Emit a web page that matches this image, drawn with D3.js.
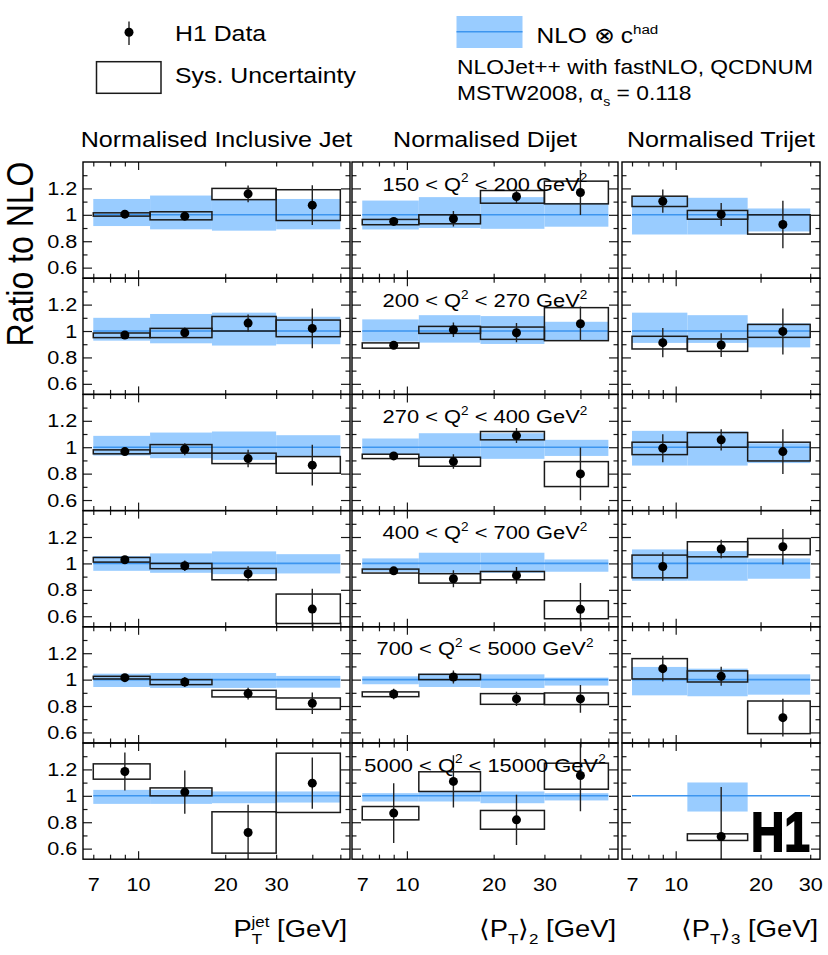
<!DOCTYPE html>
<html>
<head>
<meta charset="utf-8">
<script src="https://cdn.jsdelivr.net/npm/d3@7"></script>
<style>
	body { margin: 0; background: #fff; }
	svg { display: block; }
</style>
</head>
<body>
<svg id="chart" width="828" height="955"></svg>
<script>
const q2Low = [150, 200, 270, 400, 700, 5000];
const q2High = [200, 270, 400, 700, 5000, 15000];

const jetEdges = [7, 11, 18, 30, 50];
const dijetEdges = [7, 11, 18, 30, 50];
const trijetEdges = [7, 11, 18, 30];
const binCentres = [9, 14.5, 24, 40];

const yMajor = [0.6, 0.8, 1, 1.2];
const yMinor = [0.7, 0.9, 1.1, 1.3];
const xMajor = [10];
const xMinor = [7, 8, 9, 20, 30, 40, 50];
const xLabels = [7, 10, 20, 30];

// normalised inclusive jet, one row per Q2 bin
const jetVal = [
	[1.005, 0.99, 1.159, 1.073],
	[0.97, 0.987, 1.06, 1.02],
	[0.967, 0.985, 0.914, 0.864],
	[1.028, 0.982, 0.922, 0.654],
	[1.015, 0.982, 0.894, 0.821],
	[1.184, 1.028, 0.722, 1.096]
];
const jetStat = [
	[0.012, 0.03, 0.063, 0.15],
	[0.015, 0.04, 0.065, 0.15],
	[0.015, 0.045, 0.066, 0.154],
	[0.015, 0.04, 0.057, 0.155],
	[0.02, 0.037, 0.045, 0.082],
	[0.144, 0.164, 0.21, 0.194]
];
const jetSysLo = [
	[0.99, 0.962, 1.115, 0.957],
	[0.95, 0.95, 1.0, 0.957],
	[0.95, 0.955, 0.876, 0.803],
	[1.01, 0.96, 0.876, 0.545],
	[1.005, 0.962, 0.869, 0.775],
	[1.126, 1.0, 0.566, 0.874]
];
const jetSysHi = [
	[1.015, 1.023, 1.2, 1.19],
	[0.985, 1.02, 1.11, 1.083],
	[0.98, 1.02, 0.955, 0.929],
	[1.045, 1.0, 0.962, 0.768],
	[1.025, 1.0, 0.919, 0.861],
	[1.242, 1.06, 0.879, 1.323]
];
const jetNloLo = [
	[0.915, 0.89, 0.88, 0.89],
	[0.927, 0.907, 0.89, 0.9],
	[0.937, 0.917, 0.904, 0.93],
	[0.944, 0.929, 0.919, 0.924],
	[0.944, 0.937, 0.937, 0.939],
	[0.939, 0.939, 0.944, 0.949]
];
const jetNloHi = [
	[1.12, 1.146, 1.12, 1.12],
	[1.1, 1.129, 1.139, 1.108],
	[1.086, 1.111, 1.119, 1.091],
	[1.056, 1.076, 1.091, 1.07],
	[1.045, 1.05, 1.05, 1.028],
	[1.045, 1.045, 1.033, 1.033]
];

// normalised dijet
const dijetVal = [
	[0.95, 0.97, 1.139, 1.169],
	[0.892, 1.01, 0.987, 1.055],
	[0.934, 0.891, 1.088, 0.798],
	[0.944, 0.884, 0.909, 0.652],
	[0.891, 1.02, 0.854, 0.854],
	[0.869, 1.109, 0.818, 1.154]
];
const dijetStat = [
	[0.015, 0.058, 0.05, 0.17],
	[0.02, 0.055, 0.073, 0.13],
	[0.02, 0.055, 0.057, 0.2],
	[0.02, 0.064, 0.063, 0.2],
	[0.04, 0.05, 0.054, 0.105],
	[0.227, 0.198, 0.19, 0.27]
];
const dijetSysLo = [
	[0.925, 0.932, 1.088, 1.083],
	[0.87, 0.982, 0.937, 0.927],
	[0.914, 0.856, 1.056, 0.702],
	[0.927, 0.851, 0.876, 0.581],
	[0.871, 1.0, 0.813, 0.811],
	[0.818, 1.033, 0.747, 1.05]
];
const dijetSysHi = [
	[0.965, 1.0, 1.184, 1.255],
	[0.91, 1.035, 1.03, 1.177],
	[0.947, 0.924, 1.119, 0.891],
	[0.957, 0.922, 0.939, 0.717],
	[0.907, 1.04, 0.894, 0.899],
	[0.919, 1.182, 0.889, 1.247]
];
const dijetNloLo = [
	[0.889, 0.9, 0.894, 0.91],
	[0.92, 0.912, 0.902, 0.93],
	[0.947, 0.917, 0.912, 0.934],
	[0.937, 0.929, 0.929, 0.937],
	[0.965, 0.944, 0.937, 0.955],
	[0.957, 0.957, 0.944, 0.965]
];
const dijetNloHi = [
	[1.108, 1.134, 1.134, 1.09],
	[1.088, 1.12, 1.113, 1.07],
	[1.066, 1.106, 1.106, 1.056],
	[1.038, 1.081, 1.081, 1.03],
	[1.025, 1.045, 1.04, 1.015],
	[1.02, 1.033, 1.033, 1.02]
];

// normalised trijet
const trijetVal = [
	[1.103, 1.003, 0.927],
	[0.912, 0.894, 0.997],
	[0.992, 1.056, 0.967],
	[0.977, 1.109, 1.126],
	[1.083, 1.025, 0.712],
	[null, 0.692, null]
];
const trijetStat = [
	[0.088, 0.087, 0.18],
	[0.11, 0.09, 0.174],
	[0.106, 0.08, 0.17],
	[0.108, 0.07, 0.134],
	[0.097, 0.072, 0.143],
	[null, 0.374, null]
];
const trijetSysLo = [
	[1.063, 0.967, 0.854],
	[0.864, 0.846, 0.952],
	[0.944, 1.0, 0.896],
	[0.891, 1.05, 1.066],
	[1.005, 0.982, 0.591],
	[null, 0.662, null]
];
const trijetSysHi = [
	[1.141, 1.033, 1.0],
	[0.96, 0.94, 1.05],
	[1.038, 1.111, 1.038],
	[1.063, 1.164, 1.189],
	[1.159, 1.066, 0.838],
	[null, 0.712, null]
];
const trijetNloLo = [
	[0.851, 0.851, 0.874],
	[0.91, 0.91, 0.876],
	[0.861, 0.861, 0.88],
	[0.869, 0.869, 0.884],
	[0.881, 0.874, 0.886],
	[null, 0.881, null]
];
const trijetNloHi = [
	[1.135, 1.129, 1.048],
	[1.139, 1.12, 1.058],
	[1.124, 1.119, 1.03],
	[1.106, 1.093, 1.038],
	[1.096, 1.083, 1.04],
	[null, 1.101, null]
];

const observables = [
	{ title: "Normalised Inclusive Jet", edges: jetEdges, val: jetVal, stat: jetStat, sysLo: jetSysLo, sysHi: jetSysHi, nloLo: jetNloLo, nloHi: jetNloHi },
	{ title: "Normalised Dijet", edges: dijetEdges, val: dijetVal, stat: dijetStat, sysLo: dijetSysLo, sysHi: dijetSysHi, nloLo: dijetNloLo, nloHi: dijetNloHi },
	{ title: "Normalised Trijet", edges: trijetEdges, val: trijetVal, stat: trijetStat, sysLo: trijetSysLo, sysHi: trijetSysHi, nloLo: trijetNloLo, nloHi: trijetNloHi }
];

// layout
const colLeft = [83, 352, 622];
const colRight = [350, 618, 820];
const xDomains = [[6.45, 54], [6.45, 54], [6.45, 32.5]];
const rowTop = 162;
const rowH = 116.2;
const yDomain = [0.52, 1.4];

const FONT = "'Liberation Sans', Arial, Helvetica, sans-serif";
const SX = 1.14;
const bandColor = "#99ccff";
const lineColor = "#3d95ef";
const ink = "#1a1a1a";

const svg = d3.select("#chart");

function stretchedText(parent, x, y, size, anchor) {
	return parent.append("text")
		.attr("transform", `translate(${x},${y}) scale(${SX},1)`)
		.attr("font-family", FONT)
		.attr("font-size", size)
		.attr("text-anchor", anchor || "start")
		.attr("fill", "#000");
}

function richText(t, parts, size) {
	let shift = 0;
	parts.forEach(p => {
		const kind = p[1] || "";
		const off = kind === "sup" ? -0.42 * size : kind === "sub" ? 0.3 * size : 0;
		const ts = t.append("tspan")
			.attr("dy", off - shift)
			.attr("font-size", kind ? size * 0.62 : size)
			.text(p[0]);
		if (p[2]) ts.attr("dx", p[2]);
		shift = off;
	});
	return t;
}

function tickAxis(g, axis, values, size) {
	g.call(axis.tickValues(values).tickSize(-size).tickFormat(""))
		.call(a => a.select(".domain").remove())
		.selectAll("line")
		.attr("stroke", ink)
		.attr("stroke-width", 1.2);
}

observables.forEach((obs, c) => {
	const x = d3.scaleLog().domain(xDomains[c]).range([colLeft[c], colRight[c]]);
	const xMinorIn = xMinor.filter(v => v <= xDomains[c][1]);

	stretchedText(svg, (colLeft[c] + colRight[c]) / 2, 147, 22, "middle").text(obs.title);

	d3.range(6).forEach(r => {
		const top = rowTop + r * rowH;
		const bottom = top + rowH;
		const y = d3.scaleLinear().domain(yDomain).range([bottom, top]);
		const clipId = `clip-${c}-${r}`;

		svg.append("clipPath").attr("id", clipId)
			.append("rect")
			.attr("x", colLeft[c])
			.attr("y", top)
			.attr("width", colRight[c] - colLeft[c])
			.attr("height", rowH);

		const panel = svg.append("g").attr("clip-path", `url(#${clipId})`);

		const bins = obs.edges.slice(0, -1).map((lo, i) => ({
			lo: lo,
			hi: obs.edges[i + 1],
			xc: binCentres[i],
			v: obs.val[r][i],
			stat: obs.stat[r][i],
			sysLo: obs.sysLo[r][i],
			sysHi: obs.sysHi[r][i],
			nloLo: obs.nloLo[r][i],
			nloHi: obs.nloHi[r][i]
		}));
		const filled = bins.filter(d => d.v != null);

		panel.selectAll("rect.band")
			.data(bins.filter(d => d.nloLo != null))
			.enter()
			.append("rect")
			.attr("class", "band")
			.attr("x", d => x(d.lo))
			.attr("y", d => y(d.nloHi))
			.attr("width", d => x(d.hi) - x(d.lo))
			.attr("height", d => y(d.nloLo) - y(d.nloHi))
			.attr("fill", bandColor);

		panel.append("line")
			.attr("x1", x(obs.edges[0]))
			.attr("x2", x(obs.edges[obs.edges.length - 1]))
			.attr("y1", y(1))
			.attr("y2", y(1))
			.attr("stroke", lineColor)
			.attr("stroke-width", 1.6);

		panel.selectAll("rect.sys")
			.data(filled)
			.enter()
			.append("rect")
			.attr("class", "sys")
			.attr("x", d => x(d.lo))
			.attr("y", d => y(d.sysHi))
			.attr("width", d => x(d.hi) - x(d.lo))
			.attr("height", d => y(d.sysLo) - y(d.sysHi))
			.attr("fill", "none")
			.attr("stroke", ink)
			.attr("stroke-width", 1.5);

		panel.selectAll("line.err")
			.data(filled)
			.enter()
			.append("line")
			.attr("class", "err")
			.attr("x1", d => x(d.xc))
			.attr("x2", d => x(d.xc))
			.attr("y1", d => y(d.v - d.stat))
			.attr("y2", d => y(d.v + d.stat))
			.attr("stroke", "#222")
			.attr("stroke-width", 1.4);

		panel.selectAll("circle")
			.data(filled)
			.enter()
			.append("circle")
			.attr("cx", d => x(d.xc))
			.attr("cy", d => y(d.v))
			.attr("r", 4.5)
			.attr("fill", "#000");

		// ticks on all four sides, pointing inwards
		const ticks = svg.append("g");
		tickAxis(ticks.append("g").attr("transform", `translate(0,${bottom})`), d3.axisBottom(x), xMinorIn, 4.5);
		tickAxis(ticks.append("g").attr("transform", `translate(0,${bottom})`), d3.axisBottom(x), xMajor, 8);
		tickAxis(ticks.append("g").attr("transform", `translate(0,${top})`), d3.axisTop(x), xMinorIn, 4.5);
		tickAxis(ticks.append("g").attr("transform", `translate(0,${top})`), d3.axisTop(x), xMajor, 8);
		tickAxis(ticks.append("g").attr("transform", `translate(${colLeft[c]},0)`), d3.axisLeft(y), yMinor, 4.5);
		tickAxis(ticks.append("g").attr("transform", `translate(${colLeft[c]},0)`), d3.axisLeft(y), yMajor, 9);
		tickAxis(ticks.append("g").attr("transform", `translate(${colRight[c]},0)`), d3.axisRight(y), yMinor, 4.5);
		tickAxis(ticks.append("g").attr("transform", `translate(${colRight[c]},0)`), d3.axisRight(y), yMajor, 9);

		svg.append("rect")
			.attr("x", colLeft[c])
			.attr("y", top)
			.attr("width", colRight[c] - colLeft[c])
			.attr("height", rowH)
			.attr("fill", "none")
			.attr("stroke", "#000")
			.attr("stroke-width", 1.4);

		if (c === 0) {
			svg.append("g")
				.attr("transform", `translate(${colLeft[c]},0)`)
				.call(d3.axisLeft(y).tickValues(yMajor).tickSize(0).tickPadding(5).tickFormat(d3.format("~g")))
				.call(a => a.select(".domain").remove())
				.selectAll("text")
				.attr("font-family", FONT)
				.attr("font-size", 19)
				.attr("fill", "#000")
				.attr("transform", `scale(${SX},1)`);
		}

		if (c === 1) {
			richText(stretchedText(svg, (colLeft[c] + colRight[c]) / 2, top + 28.5, 19.2, "middle"),
				[[`${q2Low[r]} < Q`], ["2", "sup"], [` < ${q2High[r]} GeV`], ["2", "sup"]], 19.2);
		}

		if (r === 5) {
			svg.append("g")
				.attr("transform", `translate(0,${bottom})`)
				.call(d3.axisBottom(x).tickValues(xLabels).tickSize(0).tickPadding(18).tickFormat(d3.format("d")))
				.call(a => a.select(".domain").remove())
				.selectAll("text")
				.attr("font-family", FONT)
				.attr("font-size", 19)
				.attr("fill", "#000")
				.attr("transform", `scale(${SX},1)`);
		}
	});
});

// axis titles
svg.append("text")
	.attr("transform", `translate(33,254) scale(${SX},1) rotate(-90)`)
	.attr("font-family", FONT)
	.attr("font-size", 32)
	.attr("text-anchor", "middle")
	.text("Ratio to NLO");

richText(stretchedText(svg, 347, 937, 24, "end"),
	[["P"], ["T", "sub"], ["jet", "sup", -9.3], [" [GeV]"]], 24);
richText(stretchedText(svg, 616, 937, 24, "end"),
	[["\u27E8P"], ["T", "sub"], ["\u27E9"], ["2", "sub"], [" [GeV]"]], 24);
richText(stretchedText(svg, 818, 937, 24, "end"),
	[["\u27E8P"], ["T", "sub"], ["\u27E9"], ["3", "sub"], [" [GeV]"]], 24);

// H1 logo
svg.append("text")
	.attr("transform", "translate(810,851) scale(0.84,1)")
	.attr("font-family", FONT)
	.attr("font-weight", "bold")
	.attr("font-size", 55)
	.attr("text-anchor", "end")
	.attr("fill", "#000")
	.attr("stroke", "#000")
	.attr("stroke-width", 1.8)
	.attr("stroke-linejoin", "miter")
	.text("H1");

// legend
const legend = svg.append("g");
legend.append("line")
	.attr("x1", 129).attr("x2", 129)
	.attr("y1", 21.5).attr("y2", 45)
	.attr("stroke", "#222").attr("stroke-width", 1.4);
legend.append("circle")
	.attr("cx", 129).attr("cy", 32.3).attr("r", 4.5).attr("fill", "#000");
stretchedText(legend, 175, 40.5, 21.8).text("H1 Data");

legend.append("rect")
	.attr("x", 96.5).attr("y", 61.7).attr("width", 64.5).attr("height", 31.6)
	.attr("fill", "none").attr("stroke", ink).attr("stroke-width", 1.5);
stretchedText(legend, 175, 82.5, 21.8).text("Sys. Uncertainty");

legend.append("rect")
	.attr("x", 456.5).attr("y", 16).attr("width", 66).attr("height", 32)
	.attr("fill", bandColor);
legend.append("line")
	.attr("x1", 456.5).attr("x2", 522.5)
	.attr("y1", 31.7).attr("y2", 31.7)
	.attr("stroke", lineColor).attr("stroke-width", 1.6);
richText(stretchedText(legend, 536.5, 42.7, 21.5), [["NLO \u2297 c"], ["had", "sup"]], 21.5);
stretchedText(legend, 457, 74, 20).text("NLOJet++ with fastNLO, QCDNUM");
richText(stretchedText(legend, 457, 100, 20), [["MSTW2008, \u03B1"], ["s", "sub"], [" = 0.118"]], 20);
</script>
</body>
</html>
